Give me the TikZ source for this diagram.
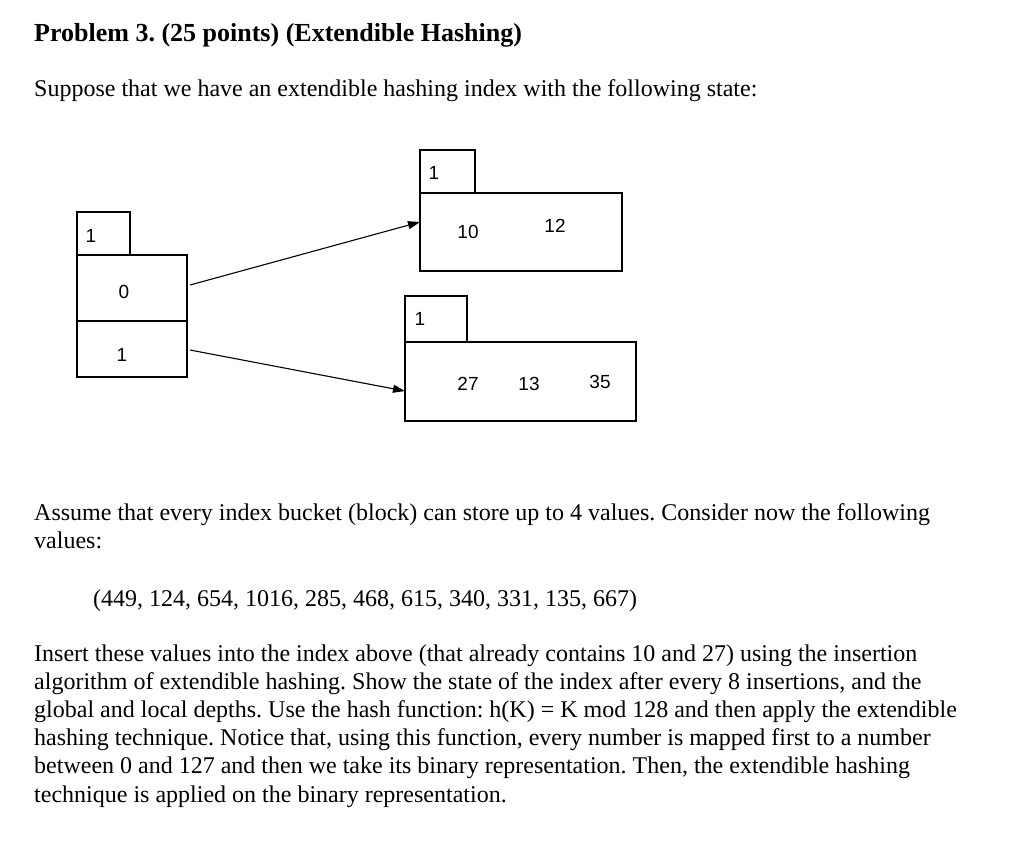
\documentclass[tikz,border=0pt]{standalone}
\usepackage{fontspec}
\setmainfont{Liberation Serif}
\newfontfamily\diagfont{Liberation Sans}
\usetikzlibrary{arrows.meta}
\frenchspacing
\begin{document}
\begin{tikzpicture}[x=1pt,y=-1pt,
  bx/.style={draw,line width=1.2pt},
  num/.style={font=\diagfont\fontsize{19}{21}\selectfont},
  txt/.style={anchor=base west,inner sep=0,font=\fontsize{24}{28}\selectfont},
  arr/.style={line width=1.1pt,-{Triangle[length=12pt,width=8pt]}}]
\useasboundingbox (0,0) rectangle (1024,863);
\node[txt,font=\bfseries\fontsize{26}{28}\selectfont] (t0) at (34,41) {Problem 3. (25 points) (Extendible Hashing)};
\node[txt] (t1) at (34,96) {Suppose that we have an extendible hashing index with the following state:};
% diagram
\draw[bx] (77,212) rectangle (130,255);
\node[num] (gd) at (91,236) {1};
\draw[bx] (77,255) rectangle (187,321);
\draw[bx] (77,321) rectangle (187,377);
\node[num] (d0) at (124,292) {0};
\node[num] (d1) at (122,355) {1};
\coordinate (s0) at (190,285);
\coordinate (s1) at (190,350);
\draw[bx] (420,150) rectangle (475,193);
\node[num] (ld1) at (434,173) {1};
\draw[bx] (420,193) rectangle (622,271);
\coordinate (e0) at (420,222);
\node[num] (v10) at (468,232) {10};
\node[num] (v12) at (555,226) {12};
\draw[bx] (405,296) rectangle (467,342);
\node[num] (ld2) at (420,319) {1};
\draw[bx] (405,342) rectangle (636,421);
\coordinate (e1) at (405,391);
\node[num] (v27) at (468,384) {27};
\node[num] (v13) at (529,384) {13};
\node[num] (v35) at (600,382) {35};
\draw[arr] (s0) -- (e0);
\draw[arr] (s1) -- (e1);
% text
\node[txt] (t2) at (34,520) {Assume that every index bucket (block) can store up to 4 values. Consider now the following};
\node[txt] (t3) at (34,548) {values:};
\node[txt] (t4) at (93,606) {(449, 124, 654, 1016, 285, 468, 615, 340, 331, 135, 667)};
\node[txt] (t5) at (34,661) {Insert these values into the index above (that already contains 10 and 27) using the insertion};
\node[txt] (t6) at (34,689) {algorithm of extendible hashing. Show the state of the index after every 8 insertions, and the};
\node[txt] (t7) at (34,717) {global and local depths. Use the hash function: h(K) = K mod 128 and then apply the extendible};
\node[txt] (t8) at (34,745) {hashing technique. Notice that, using this function, every number is mapped first to a number};
\node[txt] (t9) at (34,773) {between 0 and 127 and then we take its binary representation. Then, the extendible hashing};
\node[txt] (t10) at (34,802) {technique is applied on the binary representation.};
\end{tikzpicture}
\end{document}
